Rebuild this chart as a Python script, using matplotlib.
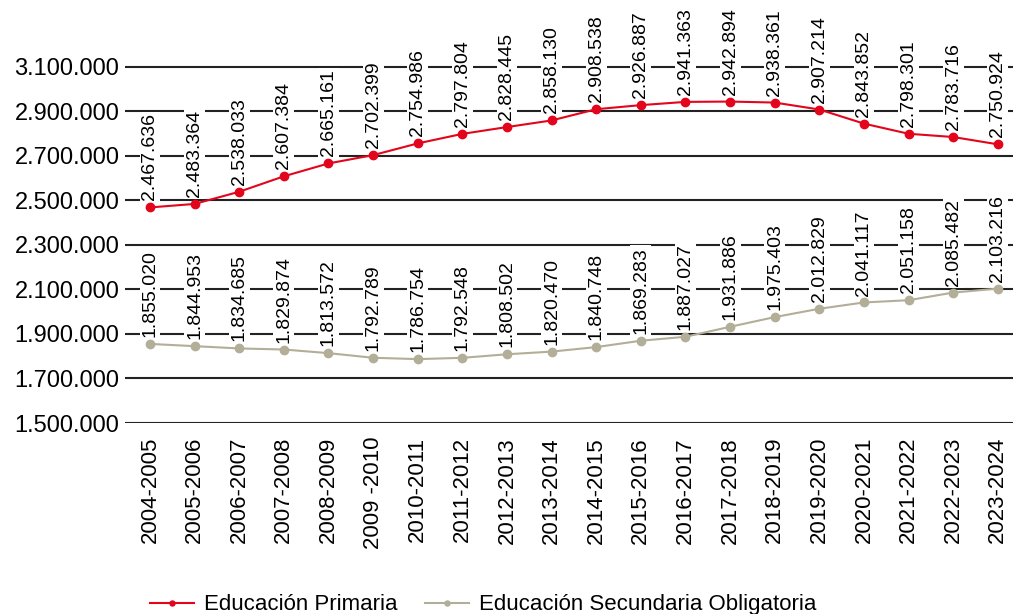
import matplotlib.pyplot as plt
from matplotlib import font_manager

# curso escolar
cursos = ['2004-2005', '2005-2006', '2006-2007', '2007-2008', '2008-2009',
          '2009 -2010', '2010-2011', '2011-2012', '2012-2013', '2013-2014',
          '2014-2015', '2015-2016', '2016-2017', '2017-2018', '2018-2019',
          '2019-2020', '2020-2021', '2021-2022', '2022-2023', '2023-2024']

primaria = [2467636, 2483364, 2538033, 2607384, 2665161, 2702399, 2754986,
            2797804, 2828445, 2858130, 2908538, 2926887, 2941363, 2942894,
            2938361, 2907214, 2843852, 2798301, 2783716, 2750924]

secundaria = [1855020, 1844953, 1834685, 1829874, 1813572, 1792789, 1786754,
              1792548, 1808502, 1820470, 1840748, 1869283, 1887027, 1931886,
              1975403, 2012829, 2041117, 2051158, 2085482, 2103216]

y_ticks = [1500000, 1700000, 1900000, 2100000, 2300000, 2500000,
           2700000, 2900000, 3100000]

# fuente estrecha si existe
nombres = {f.name for f in font_manager.fontManager.ttflist}
fuente = 'Liberation Sans Narrow' if 'Liberation Sans Narrow' in nombres else 'Liberation Sans'
plt.rcParams['font.family'] = [fuente, 'DejaVu Sans']


def fmt(v):
    return f'{v:,}'.replace(',', '.')


rojo = '#e3051b'
gris = '#b3ae98'

fig = plt.figure(figsize=(10.13, 6.14), dpi=100)
ax = fig.add_axes([125 / 1013, 1 - 423 / 614, 1 - 125 / 1013, (423 - 22) / 614])

x = list(range(len(cursos)))
ax.plot(x, primaria, color=rojo, marker='o', markersize=6, linewidth=1.5,
        label='Educación Primaria', zorder=3)
ax.plot(x, secundaria, color=gris, marker='o', markersize=6, linewidth=1.5,
        label='Educación Secundaria Obligatoria', zorder=3)

for serie in (primaria, secundaria):
    for i, v in enumerate(serie):
        ax.annotate(fmt(v), (i, v), xytext=(0, 5), textcoords='offset points',
                    rotation=90, ha='center', va='bottom', fontsize=14,
                    bbox=dict(boxstyle='square,pad=0.1', fc='white', ec='none'),
                    zorder=4, annotation_clip=False)

ax.set_xlim(-0.56, len(cursos) - 1 + 0.34)
ax.set_ylim(1500000, 3300000)
ax.set_yticks(y_ticks)
ax.set_yticklabels([fmt(t) for t in y_ticks], fontsize=17)
ax.set_xticks(x)
ax.set_xticklabels(cursos, rotation=90, fontsize=16)
ax.tick_params(length=0, pad=4)
ax.tick_params(axis='x', pad=10)

ax.grid(axis='y', color='#222222', linewidth=1.5)
ax.set_axisbelow(True)
for s in ax.spines.values():
    s.set_visible(False)

fig.legend(loc='lower left', bbox_to_anchor=(130 / 1013, -0.035), ncol=2,
           frameon=False, fontsize=16, handlelength=2.0, handletextpad=0.45,
           columnspacing=1.2, markerscale=0.6)

fig.savefig('out.png', dpi=100)
